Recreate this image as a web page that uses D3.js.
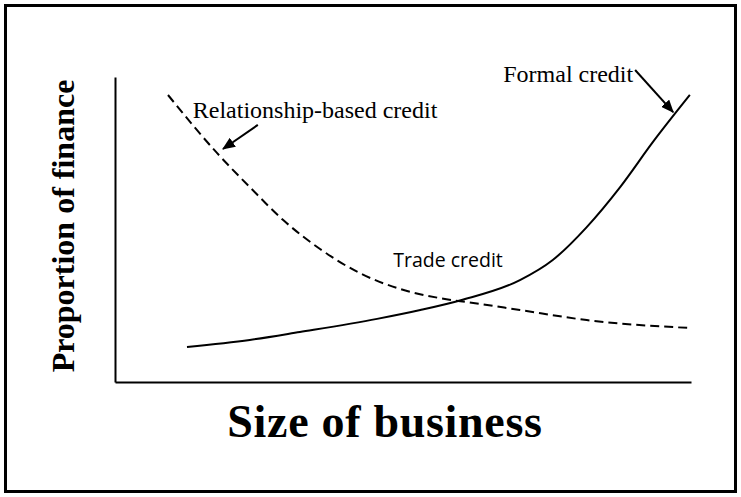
<!DOCTYPE html>
<html>
<head>
<meta charset="utf-8">
<script src="https://cdn.jsdelivr.net/npm/d3@7"></script>
<style>
  body { margin: 0; background: #fff; }
  svg { display: block; }
  .serif { font-family: "Liberation Serif", "Times New Roman", serif; }
  .sans { font-family: "Open Sans", sans-serif; }
</style>
</head>
<body>
<svg id="chart" xmlns="http://www.w3.org/2000/svg"></svg>
<script>
// size of business (0-100) vs proportion of finance (0-100)
const formalSize = [12.5, 23.4, 32.1, 45.5, 53.0, 60.2, 70.3, 76.0, 81.9, 87.7, 93.4, 99.8];
const formalShare = [11.5, 13.8, 16.4, 20.7, 23.6, 26.9, 33.4, 40.0, 50.8, 63.9, 78.7, 94.1];

const informalSize = [9.2, 17.7, 23.4, 29.2, 35.6, 42.5, 49.5, 56.4, 63.4, 70.3, 81.9, 99.8];
const informalShare = [94.1, 75.1, 63.9, 53.1, 43.6, 35.7, 30.5, 27.5, 25.6, 23.6, 20.3, 17.7];

const labelNames = ['Relationship-based credit', 'Formal credit', 'Trade credit'];
const labelSize = [13.5, 67.4, 48.3];
const labelShare = [86.6, 98.4, 37.7];

// arrows: from -> to, in data units
const arrowFrom = [[24.8, 84.3], [90.3, 102.3]];
const arrowTo = [[18.75, 76.4], [96.9, 88.5]];

const xTitle = 'Size of business';
const yTitle = 'Proportion of finance';

const width = 741;
const height = 497;
const margin = {top: 77, right: 50, bottom: 115, left: 115};

const svg = d3.select('#chart')
    .attr('width', width)
    .attr('height', height);

// outer frame
svg.append('rect')
    .attr('x', 5.5)
    .attr('y', 5.5)
    .attr('width', 730)
    .attr('height', 486)
    .attr('fill', 'none')
    .attr('stroke', '#000')
    .attr('stroke-width', 3);

const x = d3.scaleLinear().domain([0, 100]).range([margin.left, width - margin.right]);
const y = d3.scaleLinear().domain([0, 100]).range([height - margin.bottom, margin.top]);

svg.append('defs')
    .append('marker')
    .attr('id', 'head')
    .attr('viewBox', '0 0 12 10')
    .attr('refX', 11)
    .attr('refY', 5)
    .attr('markerWidth', 13)
    .attr('markerHeight', 11)
    .attr('markerUnits', 'userSpaceOnUse')
    .attr('orient', 'auto')
    .append('path')
    .attr('d', 'M0,0L12,5L0,10z')
    .attr('fill', '#000');

// axes, no ticks
svg.append('g')
    .attr('transform', `translate(0,${y(0)})`)
    .call(d3.axisBottom(x).tickValues([]).tickSizeOuter(0))
    .call(g => g.select('.domain').attr('stroke-width', 2));

svg.append('g')
    .attr('transform', `translate(${x(0)},0)`)
    .call(d3.axisLeft(y).tickValues([]).tickSizeOuter(0))
    .call(g => g.select('.domain').attr('stroke-width', 2));

const line = d3.line()
    .x(d => x(d[0]))
    .y(d => y(d[1]))
    .curve(d3.curveMonotoneX);

svg.append('path')
    .datum(d3.zip(formalSize, formalShare))
    .attr('d', line)
    .attr('fill', 'none')
    .attr('stroke', '#000')
    .attr('stroke-width', 2);

svg.append('path')
    .datum(d3.zip(informalSize, informalShare))
    .attr('d', line)
    .attr('fill', 'none')
    .attr('stroke', '#000')
    .attr('stroke-width', 2)
    .attr('stroke-dasharray', '9,5');

// annotation arrows
svg.append('g')
    .selectAll('line')
    .data(d3.zip(arrowFrom, arrowTo))
    .enter()
    .append('line')
    .attr('x1', d => x(d[0][0]))
    .attr('y1', d => y(d[0][1]))
    .attr('x2', d => x(d[1][0]))
    .attr('y2', d => y(d[1][1]))
    .attr('stroke', '#000')
    .attr('stroke-width', 2)
    .attr('marker-end', 'url(#head)');

// curve labels: first two in serif, trade credit in sans
svg.append('g')
    .selectAll('text')
    .data(labelNames)
    .enter()
    .append('text')
    .attr('class', (d, i) => (i === 2 ? 'sans' : 'serif'))
    .attr('x', (d, i) => x(labelSize[i]))
    .attr('y', (d, i) => y(labelShare[i]))
    .attr('font-size', (d, i) => (i === 2 ? 19.5 : 24))
    .text(d => d);

svg.append('text')
    .attr('class', 'serif')
    .attr('x', 385)
    .attr('y', 437)
    .attr('text-anchor', 'middle')
    .attr('font-weight', 'bold')
    .attr('font-size', 46)
    .attr('letter-spacing', 0.7)
    .text(xTitle);

svg.append('text')
    .attr('class', 'serif')
    .attr('transform', 'translate(74,226) rotate(-90)')
    .attr('text-anchor', 'middle')
    .attr('font-weight', 'bold')
    .attr('font-size', 32)
    .text(yTitle);
</script>
</body>
</html>
